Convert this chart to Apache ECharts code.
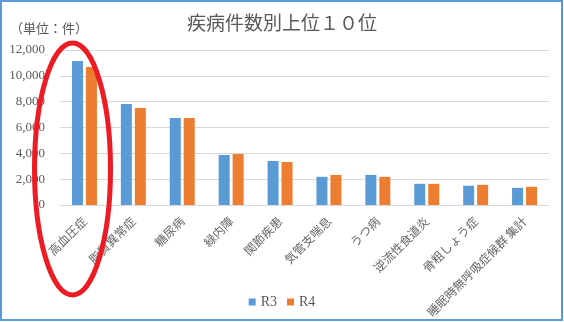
<!DOCTYPE html>
<html>
<head>
<meta charset="utf-8">
<script src="https://cdn.jsdelivr.net/npm/echarts@6/dist/echarts.min.js"></script>
<style>
html,body{margin:0;padding:0;background:#fff;}
#main{width:564px;height:322px;}
</style>
</head>
<body>
<div id="main"></div>
<script>
const titleText = '疾病件数別上位１０位';
const unitLabel = '（単位：件）';
const categories = ['高血圧症','脂質異常症','糖尿病','緑内障','関節疾患','気管支喘息','うつ病','逆流性食道炎','骨粗しょう症','睡眠時無呼吸症候群 集計'];
const seriesNames = ['R3','R4'];
const r3Values = [11150, 7820, 6740, 3870, 3410, 2180, 2330, 1640, 1490, 1330];
const r4Values = [10690, 7510, 6740, 3950, 3330, 2330, 2180, 1640, 1560, 1410];
const yTicks = [0, 2000, 4000, 6000, 8000, 10000, 12000];

const serif = '"Liberation Serif","DejaVu Serif","Noto Sans CJK JP",serif';
const cjk = '"Noto Sans CJK JP","Noto Sans",sans-serif';
const chart = echarts.init(document.getElementById('main'), null, {renderer:'canvas'});
chart.setOption({
  animation:false,
  backgroundColor:'#ffffff',
  title:{
    text:titleText, left:'center', top:8,
    textStyle:{fontFamily:cjk, fontSize:19, fontWeight:'normal', color:'#595959'}
  },
  legend:{
    data:seriesNames, bottom:8, left:'center',
    itemWidth:7, itemHeight:7, itemGap:10, icon:'rect',
    textStyle:{fontFamily:serif, fontSize:14, color:'#595959'}
  },
  grid:{left:60, right:15, top:50, bottom:117, containLabel:false},
  xAxis:{
    type:'category', data:categories,
    axisLine:{lineStyle:{color:'#d9d9d9'}},
    axisTick:{show:false},
    axisLabel:{rotate:45, interval:0, margin:14, fontFamily:'"Noto Sans CJK JP",serif', fontSize:12, color:'#666666'}
  },
  yAxis:{
    type:'value', min:yTicks[0], max:yTicks[yTicks.length-1], interval:2000,
    axisLine:{show:false}, axisTick:{show:false},
    splitLine:{lineStyle:{color:'#d9d9d9', width:1}},
    axisLabel:{margin:15, fontFamily:serif, fontSize:13, color:'#595959',
      formatter:v=>v.toLocaleString('en-US')}
  },
  series:[
    {name:seriesNames[0], type:'bar', data:r3Values, barWidth:11, barGap:'27%', itemStyle:{color:'#5b9bd5'}},
    {name:seriesNames[1], type:'bar', data:r4Values, barWidth:11, barGap:'27%', itemStyle:{color:'#ed7d31'}}
  ],
  graphic:[
    {type:'text', left:10, top:22, style:{text:unitLabel, font:'13px "Noto Sans CJK JP", sans-serif', fill:'#595959'}},
    {type:'ellipse', z:100, shape:{cx:72.5, cy:169, rx:38, ry:126}, style:{fill:'none', stroke:'#ed1c24', lineWidth:5}},
    {type:'rect', z:100, shape:{x:1, y:1, width:561, height:319}, style:{fill:'none', stroke:'#5b9bd5', lineWidth:2}}
  ]
});
</script>
</body>
</html>
